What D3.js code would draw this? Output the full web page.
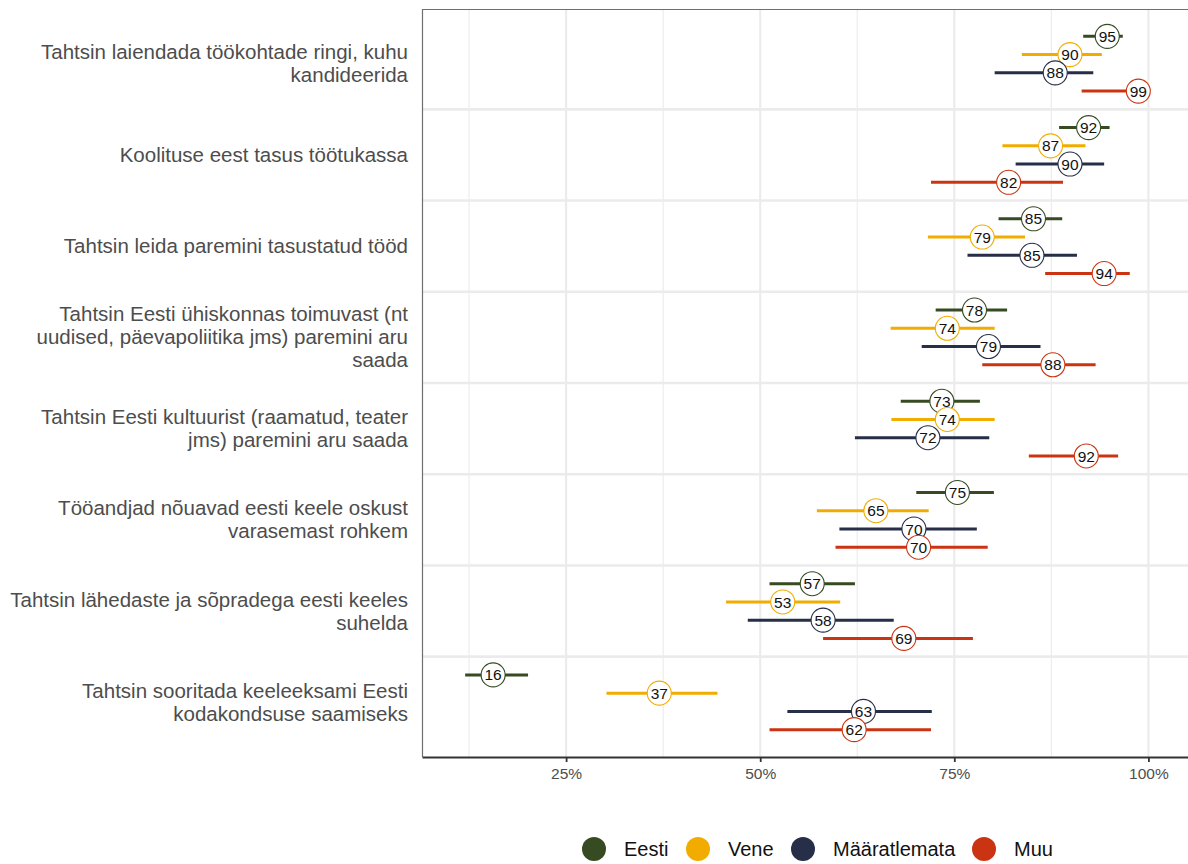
<!DOCTYPE html>
<html>
<head>
<meta charset="utf-8">
<script src="https://cdn.jsdelivr.net/npm/d3@7"></script>
<style>
  html, body { margin: 0; padding: 0; background: #ffffff; }
  svg { display: block; font-family: "Liberation Sans", Arial, sans-serif; }
</style>
</head>
<body>
<svg id="chart" width="1188" height="864"></svg>
<script>
// ---- data ----
const categories = [
  ["Tahtsin laiendada töökohtade ringi, kuhu", "kandideerida"],
  ["Koolituse eest tasus töötukassa"],
  ["Tahtsin leida paremini tasustatud tööd"],
  ["Tahtsin Eesti ühiskonnas toimuvast (nt", "uudised, päevapoliitika jms) paremini aru", "saada"],
  ["Tahtsin Eesti kultuurist (raamatud, teater", "jms) paremini aru saada"],
  ["Tööandjad nõuavad eesti keele oskust", "varasemast rohkem"],
  ["Tahtsin lähedaste ja sõpradega eesti keeles", "suhelda"],
  ["Tahtsin sooritada keeleeksami Eesti", "kodakondsuse saamiseks"]
];
const seriesNames = ["Eesti", "Vene", "Määratlemata", "Muu"];
const seriesColors = ["#364b22", "#f2ac00", "#272e47", "#cb3412"];

const eestiValue = [94.7, 92.3, 85.2, 77.6, 73.4, 75.4, 56.7, 15.6];
const eestiLow   = [91.6, 88.5, 80.7, 72.6, 68.1, 70.1, 51.2, 12.0];
const eestiHigh  = [96.7, 95.0, 88.9, 81.8, 78.3, 80.1, 62.2, 20.1];

const veneValue = [89.9, 87.4, 78.6, 74.1, 74.1, 64.9, 52.9, 37.0];
const veneLow   = [83.7, 81.2, 71.6, 66.8, 66.9, 57.3, 45.6, 30.2];
const veneHigh  = [94.0, 91.9, 84.1, 80.2, 80.2, 71.7, 60.3, 44.5];

const maarValue = [88.0, 89.9, 85.0, 79.4, 71.6, 69.8, 58.1, 63.3];
const maarLow   = [80.2, 82.9, 76.7, 70.8, 62.2, 60.2, 48.4, 53.5];
const maarHigh  = [92.9, 94.3, 90.8, 86.1, 79.5, 77.9, 67.2, 72.1];

const muuValue = [98.7, 82.0, 94.3, 87.7, 92.0, 70.4, 68.5, 62.1];
const muuLow   = [91.4, 72.0, 86.7, 78.6, 84.6, 59.7, 58.1, 51.2];
const muuHigh  = [100.0, 89.0, 97.6, 93.2, 96.1, 79.3, 77.4, 72.0];

const xTicks = [25, 50, 75, 100];
const xMinorGrid = [12.5, 37.5, 62.5, 87.5];

// ---- build table ----
const seriesValues = [eestiValue, veneValue, maarValue, muuValue];
const seriesLow = [eestiLow, veneLow, maarLow, muuLow];
const seriesHigh = [eestiHigh, veneHigh, maarHigh, muuHigh];
const rows = [];
categories.forEach((c, i) => {
  seriesNames.forEach((s, j) => {
    rows.push({cat: i, s: j, v: seriesValues[j][i], lo: seriesLow[j][i], hi: seriesHigh[j][i]});
  });
});

// ---- layout ----
const panel = {left: 422, right: 1188, top: 9, bottom: 757};
const svg = d3.select("#chart");

const x = d3.scaleLinear().domain([6.44, 105.1]).range([panel.left, panel.right]);
const y = d3.scaleLinear().domain([0.4, categories.length + 0.6]).range([panel.top, panel.bottom]);
const dodge = d3.scaleLinear().domain([0, seriesNames.length - 1]).range([-0.3, 0.3]);
const color = d3.scaleOrdinal().domain(d3.range(seriesNames.length)).range(seriesColors);

// grid
const grid = svg.append("g");
grid.selectAll("line.minor").data(xMinorGrid).join("line")
  .attr("x1", d => x(d)).attr("x2", d => x(d))
  .attr("y1", panel.top).attr("y2", panel.bottom)
  .attr("stroke", "#ebebeb").attr("stroke-width", 1.1);
grid.selectAll("line.major").data(xTicks).join("line")
  .attr("x1", d => x(d)).attr("x2", d => x(d))
  .attr("y1", panel.top).attr("y2", panel.bottom)
  .attr("stroke", "#ebebeb").attr("stroke-width", 2.1);
grid.selectAll("line.h").data(d3.range(1, categories.length)).join("line")
  .attr("x1", panel.left).attr("x2", panel.right)
  .attr("y1", d => y(d + 0.5)).attr("y2", d => y(d + 0.5))
  .attr("stroke", "#ebebeb").attr("stroke-width", 2.6);

// panel border (top and left)
svg.append("line").attr("x1", panel.left).attr("x2", panel.right)
  .attr("y1", panel.top + 0.5).attr("y2", panel.top + 0.5)
  .attr("stroke", "#6f6f6f").attr("stroke-width", 1.2);
svg.append("line").attr("x1", panel.left + 0.5).attr("x2", panel.left + 0.5)
  .attr("y1", panel.top).attr("y2", panel.bottom)
  .attr("stroke", "#6f6f6f").attr("stroke-width", 1.2);

// x axis
const xAxis = svg.append("g")
  .attr("transform", `translate(0,${panel.bottom})`)
  .call(d3.axisBottom(x).tickValues(xTicks).tickFormat(d => d + "%").tickSize(5).tickSizeOuter(0).tickPadding(6));
xAxis.select(".domain").attr("stroke", "#333333").attr("stroke-width", 1.8);
xAxis.selectAll(".tick line").attr("stroke", "#333333").attr("stroke-width", 1.8);
xAxis.selectAll(".tick text").attr("fill", "#4d4d4d").style("font-size", "15.5px")
  .style("font-family", "'Liberation Sans', Arial, sans-serif");

// y labels
const lineH = 23;
const ylab = svg.append("g");
categories.forEach((lines, i) => {
  const cy = y(i + 1);
  const t = ylab.append("text").attr("text-anchor", "end")
    .attr("fill", "#4d4d4d").style("font-size", "20.5px");
  lines.forEach((ln, k) => {
    t.append("tspan").attr("x", 408)
      .attr("y", cy + 7 + (k - (lines.length - 1) / 2) * lineH)
      .text(ln);
  });
});

// error bars
const bars = svg.append("g");
bars.selectAll("line").data(rows).join("line")
  .attr("x1", d => x(d.lo)).attr("x2", d => x(d.hi))
  .attr("y1", d => y(d.cat + 1 + dodge(d.s))).attr("y2", d => y(d.cat + 1 + dodge(d.s)))
  .attr("stroke", d => color(d.s)).attr("stroke-width", 3);

// labels
const labs = svg.append("g");
const lg = labs.selectAll("g").data(rows).join("g")
  .attr("transform", d => `translate(${x(d.v)},${y(d.cat + 1 + dodge(d.s))})`);
lg.append("circle").attr("r", 12)
  .attr("fill", "#ffffff").attr("stroke", d => color(d.s)).attr("stroke-width", 1.1);
lg.append("text").attr("text-anchor", "middle").attr("dy", "0.36em")
  .attr("fill", "#111111").style("font-size", "15.5px")
  .text(d => Math.round(d.v));

// legend
const legendX = [594, 698, 803, 984];
const leg = svg.append("g");
seriesNames.forEach((s, j) => {
  leg.append("circle").attr("cx", legendX[j]).attr("cy", 849).attr("r", 12)
    .attr("fill", color(j));
  leg.append("text").attr("x", legendX[j] + 30).attr("y", 856)
    .attr("fill", "#111111").style("font-size", "20px").text(s);
});
</script>
</body>
</html>
